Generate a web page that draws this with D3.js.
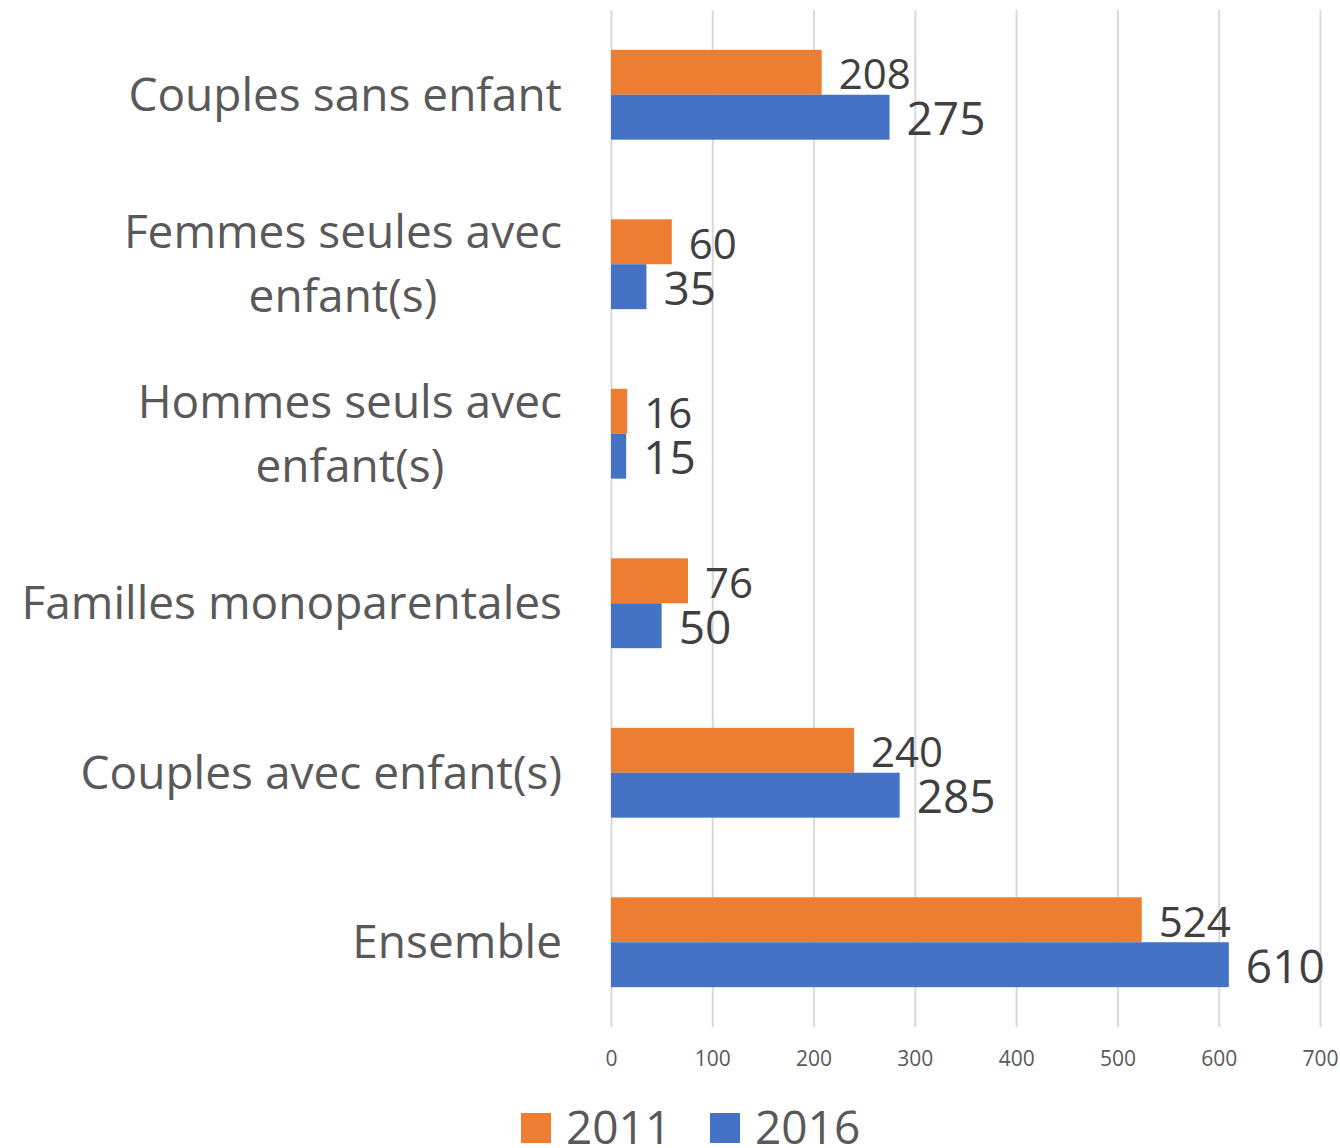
<!DOCTYPE html>
<html>
<head>
<meta charset="utf-8">
<script src="https://cdn.jsdelivr.net/npm/d3@7"></script>
<style>
  body { margin: 0; background: #fff; }
  text { font-family: "Open Sans", sans-serif; }
</style>
</head>
<body>
<div id="chart"></div>
<script>
const categories = [
  ["Couples sans enfant"],
  ["Femmes seules avec", "enfant(s)"],
  ["Hommes seuls avec", "enfant(s)"],
  ["Familles monoparentales"],
  ["Couples avec enfant(s)"],
  ["Ensemble"]
];
const years = ["2011", "2016"];
const values2011 = [208, 60, 16, 76, 240, 524];
const values2016 = [275, 35, 15, 50, 285, 610];
const xTicks = [0, 100, 200, 300, 400, 500, 600, 700];

const colors = { "2011": "#ED7D31", "2016": "#4472C4" };

const svg = d3.select("#chart").append("svg")
  .attr("width", 1340).attr("height", 1148);

const plotTop = 10, plotBottom = 1027;
const x = d3.scaleLinear().domain([0, 700]).range([611, 1320]);
const y0 = d3.scaleBand().domain(d3.range(categories.length))
  .range([plotTop, plotBottom]).paddingInner(0.47).paddingOuter(0.235);
const y1 = d3.scaleBand().domain(years).range([0, y0.bandwidth()]);

// grid + tick labels
const axis = svg.append("g").attr("transform", "translate(0," + plotTop + ")")
  .call(d3.axisBottom(x).tickValues(xTicks).tickSize(plotBottom - plotTop).tickPadding(24));
axis.select(".domain").remove();
axis.selectAll("line").attr("stroke", "#D9D9D9").attr("stroke-width", 2);
axis.selectAll("text").attr("fill", "#595959").style("font-size", "21px")
  .style("font-family", "'Open Sans', sans-serif");

// bars
const rows = categories.map((c, i) => ({ i: i, v: { "2011": values2011[i], "2016": values2016[i] } }));
const groups = svg.selectAll("g.row").data(rows).enter().append("g")
  .attr("class", "row")
  .attr("transform", d => "translate(0," + y0(d.i) + ")");

groups.selectAll("rect").data(d => years.map(k => ({ k: k, v: d.v[k] }))).enter()
  .append("rect")
  .attr("x", x(0))
  .attr("y", d => y1(d.k))
  .attr("width", d => x(d.v) - x(0))
  .attr("height", y1.bandwidth())
  .attr("fill", d => colors[d.k]);

groups.selectAll("text.val").data(d => years.map(k => ({ k: k, v: d.v[k] }))).enter()
  .append("text")
  .attr("class", "val")
  .attr("x", d => x(d.v) + 17)
  .attr("y", d => y1(d.k) + y1.bandwidth() / 2 + 2)
  .attr("dy", "0.35em")
  .attr("fill", "#404040")
  .style("font-size", d => d.k === "2011" ? "42px" : "46px")
  .text(d => d.v);

// category labels, lines centred, block right-aligned
const labelRight = 562, lineH = 64;
categories.forEach((lines, i) => {
  const cy = y0(i) + y0.bandwidth() / 2;
  const t = svg.append("text").attr("fill", "#595959").style("font-size", "46px")
    .attr("text-anchor", "middle");
  lines.forEach((ln, j) => {
    t.append("tspan").attr("x", 0)
      .attr("y", cy + (j - (lines.length - 1) / 2) * lineH)
      .attr("dy", "0.35em").text(ln);
  });
  const w = t.node().getBBox().width;
  t.selectAll("tspan").attr("x", labelRight - w / 2);
});

// legend
const legend = svg.append("g").attr("transform", "translate(521,1113)");
const legendX = { "2011": 0, "2016": 189 };
years.forEach(k => {
  legend.append("rect").attr("x", legendX[k]).attr("y", 0)
    .attr("width", 30).attr("height", 30).attr("fill", colors[k]);
  legend.append("text").attr("x", legendX[k] + 45).attr("y", 15).attr("dy", "0.35em")
    .attr("fill", "#595959").style("font-size", "46px").text(k);
});
</script>
</body>
</html>
